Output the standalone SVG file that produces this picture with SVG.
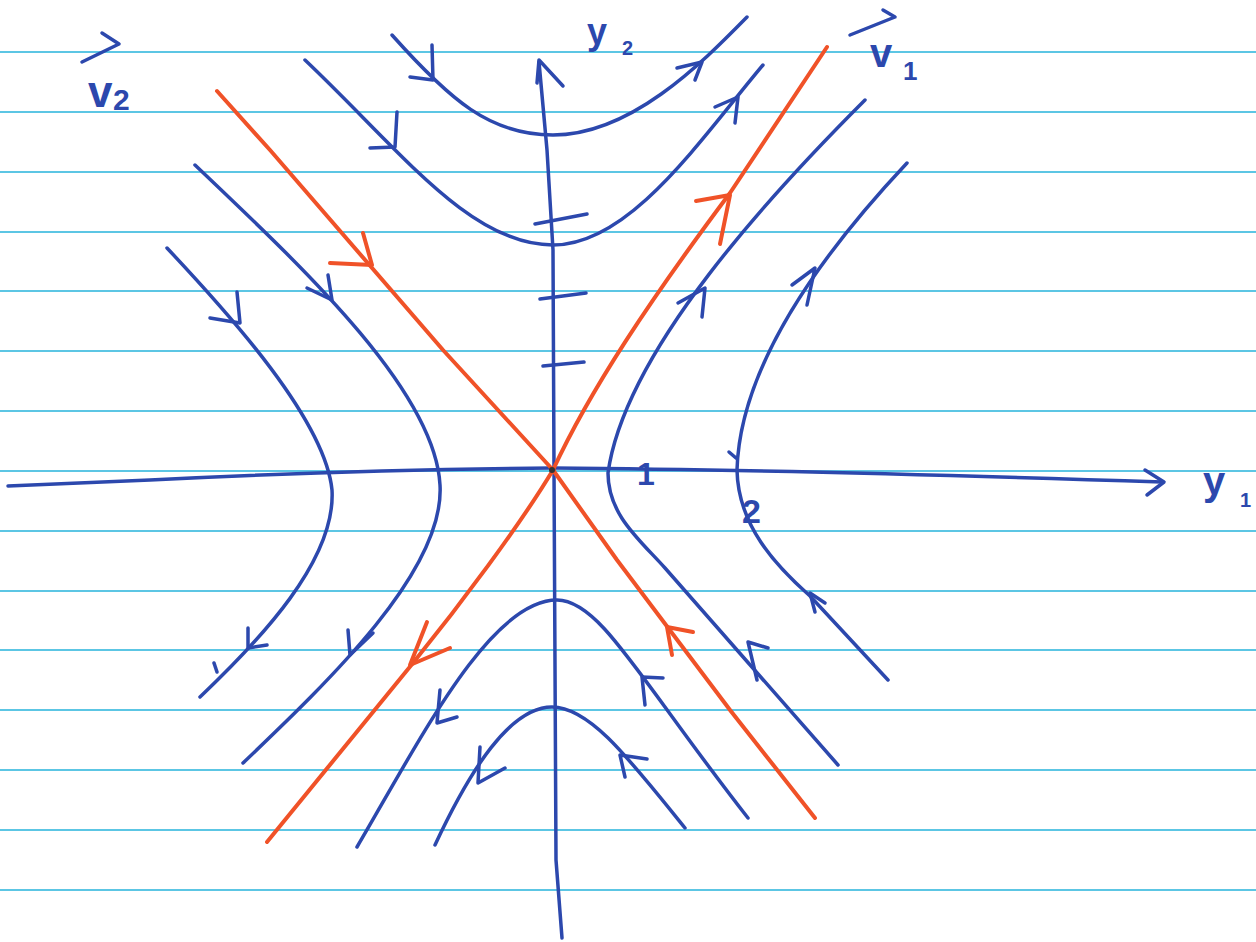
<svg xmlns="http://www.w3.org/2000/svg" width="1256" height="942" viewBox="0 0 1256 942">
<style>
.paper{stroke:#5cc6e4;stroke-width:2;fill:none}
.b{stroke:#2c48ad;stroke-width:3.5;fill:none;stroke-linecap:round;stroke-linejoin:round}
.r{stroke:#f05228;stroke-width:4;fill:none;stroke-linecap:round;stroke-linejoin:round}
.t{font-family:"Liberation Sans",Arial,sans-serif;fill:#2c48ad;font-weight:bold}
</style>
<rect width="1256" height="942" fill="#ffffff"/>
<g id="paper">
<path class="paper" d="M0,52H1256M0,112H1256M0,172H1256M0,232H1256M0,291H1256M0,351H1256M0,411H1256M0,471H1256M0,531H1256M0,591H1256M0,650H1256M0,710H1256M0,770H1256M0,830H1256M0,890H1256"/>
</g>
<g id="axes">
<path class="b" d="M8,486 L150,480 Q350,470 553,468 Q800,470 1162,482"/>
<path class="b" d="M1145,470 L1164,482 L1147,495"/>
<path class="b" d="M539,62 L547,150 L553,250 L554,470 L556,860 L562,938"/>
<path class="b" d="M537,83 L539,60 L563,86"/>
<path class="b" d="M535,224 L587,214 M540,299 L586,293 M543,366 L584,362"/>
<path class="b" d="M729,452 L736,458"/>
</g>
<g id="separatrices">
<path class="r" d="M217,91 L270,150 L443,350 L553,470 L617,560 L730,710 L815,818"/>
<path class="r" d="M363,233 L372,265 L330,263"/>
<path class="r" d="M693,632 L667,627 L672,655"/>
<path class="r" d="M267,842 L413,663 C460,605 520,525 553,470 C590,390 650,300 730,193 L827,47"/>
<path class="r" d="M696,201 L730,195 L720,244"/>
<path class="r" d="M427,622 L410,665 L450,648"/>
<circle cx="552" cy="470" r="3" fill="#333"/>
</g>
<g id="trajectories">
<g id="u1"><path class="b" d="M392,35 C450,100 490,135 553,135 C630,135 700,65 747,17"/><path class="b" d="M432,45 L433,80 L410,77"/><path class="b" d="M677,68 L702,62 L695,80"/></g>
<g id="u2"><path class="b" d="M305,60 C400,150 470,245 553,245 C630,245 700,140 763,65"/><path class="b" d="M397,112 L395,147 L370,148"/><path class="b" d="M715,107 L738,97 L735,123"/></g>
<g id="l1"><path class="b" d="M167,248 C230,315 325,420 332,490 C336,560 260,640 200,697"/><path class="b" d="M237,292 L240,323 L210,318"/><path class="b" d="M248,628 L248,648 L267,645"/><path class="b" d="M214,663 L217,672"/></g>
<g id="l2"><path class="b" d="M195,165 C300,265 435,390 440,485 C445,570 330,680 243,763"/><path class="b" d="M328,275 L332,300 L307,288"/><path class="b" d="M348,630 L350,655 L373,633"/></g>
<g id="r1"><path class="b" d="M865,100 C775,190 625,350 608,473 C608,515 640,540 665,568 L838,765"/><path class="b" d="M678,303 L705,288 L702,317"/><path class="b" d="M768,648 L748,642 L757,680"/></g>
<g id="r2"><path class="b" d="M907,163 C830,245 740,360 737,470 C738,525 775,565 810,596 L888,680"/><path class="b" d="M792,285 L815,268 L807,305"/><path class="b" d="M825,603 L810,593 L815,612"/></g>
<g id="d1"><path class="b" d="M357,847 C420,740 490,600 557,600 C600,600 640,680 748,818"/><path class="b" d="M440,690 L437,723 L457,717"/><path class="b" d="M663,678 L642,677 L645,705"/></g>
<g id="d2"><path class="b" d="M435,845 C470,770 510,707 552,707 C590,707 630,760 685,828"/><path class="b" d="M480,747 L478,783 L505,768"/><path class="b" d="M647,759 L620,755 L625,777"/></g>
</g>
<g id="labels">
<path class="b" d="M102,33 L119,44 L82,62"/>
<text class="t" x="88" y="107" font-size="44">v</text>
<text class="t" x="113" y="110" font-size="30">2</text>
<path class="b" d="M883,10 L895,17 L850,35"/>
<text class="t" x="870" y="67" font-size="40">v</text>
<text class="t" x="903" y="80" font-size="26">1</text>
<text class="t" x="587" y="44" font-size="36">y</text>
<text class="t" x="622" y="55" font-size="20">2</text>
<text class="t" x="1203" y="495" font-size="40">y</text>
<text class="t" x="1240" y="507" font-size="20">1</text>
<text class="t" x="637" y="485" font-size="32">1</text>
<text class="t" x="742" y="523" font-size="34">2</text>
</g>
</svg>
